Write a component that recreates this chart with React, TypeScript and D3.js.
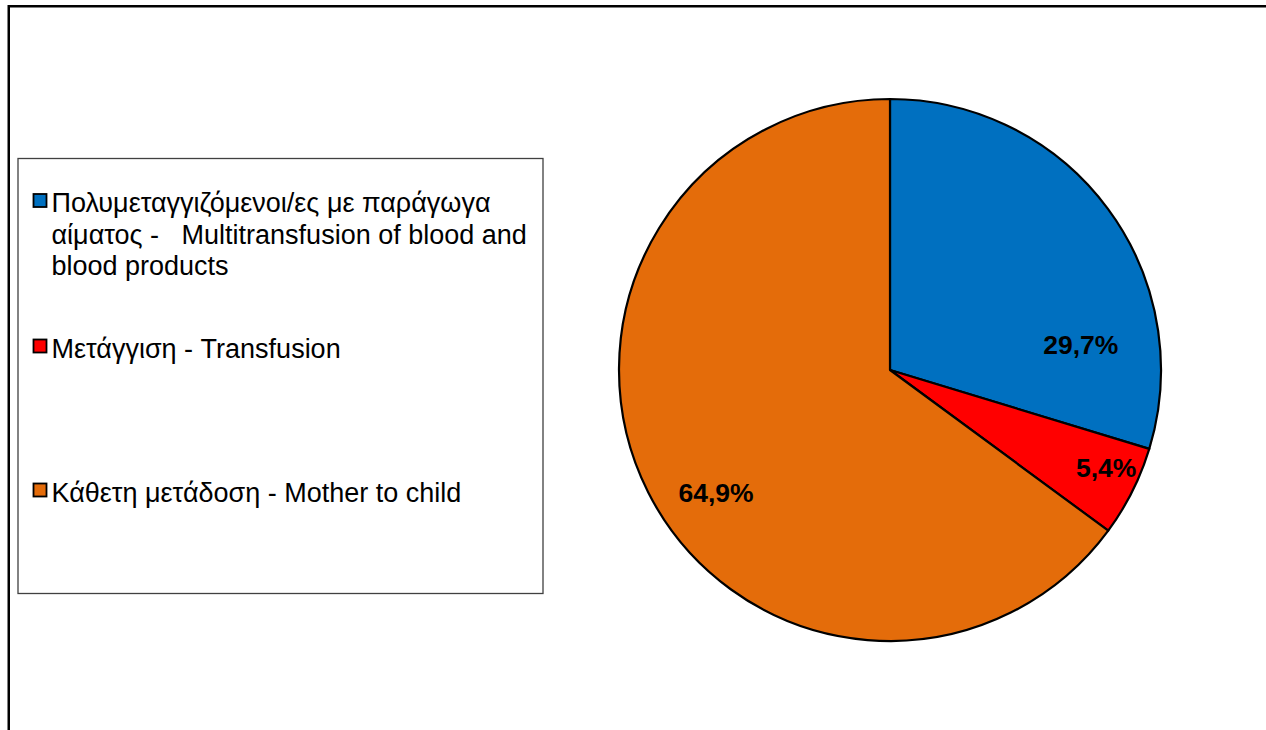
import React, { useEffect } from 'react';
import * as d3 from 'd3';

// slice data, clockwise from 12 o'clock
const categories = [
  ['Πολυμεταγγιζόμενοι/ες με παράγωγα', 'αίματος -   Multitransfusion of blood and', 'blood products'],
  ['Μετάγγιση - Transfusion'],
  ['Κάθετη μετάδοση - Mother to child'],
];
const values = [29.7, 5.4, 64.9];
const valueLabels = ['29,7%', '5,4%', '64,9%'];
const colors = ['#0070C0', '#FF0000', '#E46C0A'];

// label placement: fraction along slice angle, fraction of radius
const labelAngleFrac = [0.772, 0.38, 0.464];
const labelRadiusFrac = [0.71, 0.875, 0.786];

const W = 1266;
const H = 730;
const cx = 890;
const cy = 370;
const R = 271;

export default function App() {
  useEffect(() => {
    document.body.style.margin = '0';
  }, []);

  const pie = d3.pie<number>().sort(null).value(d => d);
  const arcs = pie(values);
  const arc = d3.arc<d3.PieArcDatum<number>>().innerRadius(0).outerRadius(R);

  const font = '"Liberation Sans", Arial, sans-serif';

  // legend layout
  const legendX = 18;
  const legendY = 158.5;
  const legendW = 525;
  const legendH = 435;
  const itemBaselines = [212, 357.5, 501.5];
  const lineH = 31.5;

  return (
    <svg width={W} height={H} style={{ display: 'block', background: '#fff' }}>
      <rect x={8.75} y={6.25} width={W + 50} height={H + 50} fill="#fff" stroke="#000" strokeWidth={2.5} />

      <g transform={`translate(${cx},${cy})`}>
        {arcs.map((a, i) => (
          <path key={i} d={arc(a) || ''} fill={colors[i]} stroke="#000" strokeWidth={2.2} strokeLinejoin="round" />
        ))}
        {arcs.map((a, i) => {
          const ang = a.startAngle + (a.endAngle - a.startAngle) * labelAngleFrac[i];
          const r = R * labelRadiusFrac[i];
          const x = Math.sin(ang) * r;
          const y = -Math.cos(ang) * r;
          return (
            <text key={'l' + i} x={x} y={y} dy="0.35em" textAnchor="middle"
              fontFamily={font} fontWeight="bold" fontSize={26.5} fill="#000">
              {valueLabels[i]}
            </text>
          );
        })}
      </g>

      <rect x={legendX} y={legendY} width={legendW} height={legendH} fill="#fff" stroke="#404040" strokeWidth={1.3} />
      {categories.map((lines, i) => (
        <g key={'g' + i}>
          <rect x={33.5} y={itemBaselines[i] - 18} width={13} height={13} fill={colors[i]} stroke="#000" strokeWidth={1.8} />
          <text fontFamily={font} fontSize={27} fill="#000">
            {lines.map((ln, j) => (
              <tspan key={j} x={51.5} y={itemBaselines[i] + j * lineH} style={{ whiteSpace: 'pre' }}>{ln}</tspan>
            ))}
          </text>
        </g>
      ))}
    </svg>
  );
}
